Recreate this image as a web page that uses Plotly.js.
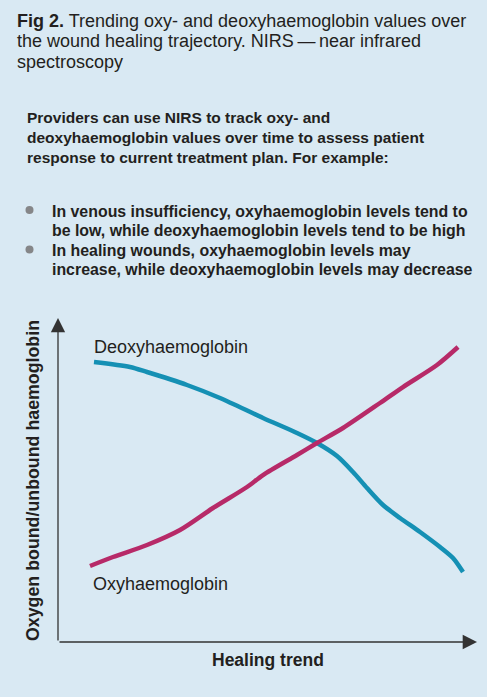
<!DOCTYPE html>
<html>
<head>
<meta charset="utf-8">
<script src="https://cdn.plot.ly/plotly-3.0.1.min.js"></script>
<style>
html,body{margin:0;padding:0;background:#d9e9f3;}
#chart{width:487px;height:697px;}
</style>
</head>
<body>
<div id="chart"></div>
<script>
// Data (arbitrary units, 0-100 on each axis)
const deoxyX = [8.59, 17.18, 21.24, 30.79, 38.66, 48.93, 57.04, 61.81, 66.59, 70.41, 73.75, 77.57, 81.62, 86.40, 91.17, 94.27, 96.66];
const deoxyY = [86.42, 84.88, 83.33, 79.32, 75.31, 69.14, 64.51, 61.42, 57.40, 52.47, 47.54, 42.28, 38.28, 33.95, 29.32, 25.93, 21.60];
const oxyX = [7.64, 13.13, 21.24, 29.12, 36.99, 45.11, 48.93, 57.04, 61.81, 68.02, 76.85, 82.34, 90.45, 95.47];
const oxyY = [23.46, 26.23, 29.94, 34.57, 41.36, 47.84, 51.54, 57.72, 61.42, 66.05, 73.77, 78.70, 85.49, 91.05];

const seriesNames = ["Deoxyhaemoglobin", "Oxyhaemoglobin"];
const xTitle = "Healing trend";
const yTitle = "Oxygen bound/unbound haemoglobin";
const titleLines = [
  "<b>Fig 2.</b> Trending oxy- and deoxyhaemoglobin values over",
  "the wound healing trajectory. NIRS\u2009\u2014\u2009near infrared",
  "spectroscopy"
];
const introLines = [
  "Providers can use NIRS to track oxy- and",
  "deoxyhaemoglobin values over time to assess patient",
  "response to current treatment plan. For example:"
];
const bulletLines = [
  ["In venous insufficiency, oxyhaemoglobin levels tend to", "be low, while deoxyhaemoglobin levels tend to be high"],
  ["In healing wounds, oxyhaemoglobin levels may", "increase, while deoxyhaemoglobin levels may decrease"]
];

// Layout geometry (pixels)
const W = 487, H = 697;
const L = 58, R = 477, T = 318, B = 642;
const px2x = p => (p - L) / (R - L);
const py2y = p => (B - p) / (B - T);
const FONT = "Liberation Sans, Arial, Helvetica, sans-serif";
const INK = "#231f20";

const annotations = [];
function addText(str, px, base, size, bold, anchor) {
  annotations.push({
    xref: "paper", yref: "paper",
    x: px2x(px), y: py2y(base - 0.35 * size),
    xanchor: anchor || "left", yanchor: "middle",
    text: bold ? "<b>" + str + "</b>" : str,
    showarrow: false,
    font: {family: FONT, size: size, color: INK},
    borderpad: 0
  });
}
titleLines.forEach((t, i) => addText(t, 16, 27 + i * 20.5, 18, false));
introLines.forEach((t, i) => addText(t, 26, 123 + i * 20, 15.5, true));
const bulletBase = [[217, 236.5], [256.5, 275.5]];
const shapes = [];
bulletLines.forEach((pair, i) => {
  pair.forEach((t, j) => addText(t, 51, bulletBase[i][j], 15.9, true));
  shapes.push({
    type: "circle", xref: "paper", yref: "paper",
    xsizemode: "pixel", ysizemode: "pixel",
    xanchor: px2x(29.5), yanchor: py2y(bulletBase[i][0] - 7),
    x0: -4, x1: 4, y0: -4, y1: 4,
    fillcolor: "#858688", line: {width: 0}
  });
});
// series labels
addText(seriesNames[0], 93, 353, 18, false);
addText(seriesNames[1], 92, 590, 18, false);
// axis titles
addText(xTitle, 268, 666, 17.5, true, "center");
annotations.push({
  xref: "paper", yref: "paper", x: px2x(33), y: py2y(481),
  xanchor: "center", yanchor: "middle", textangle: -90,
  text: "<b>" + yTitle + "</b>", showarrow: false,
  font: {family: FONT, size: 17.8, color: INK}
});
// axis arrows
annotations.push({
  xref: "x", yref: "y", x: 0, y: 100, ax: 0, ay: B - T, axref: "pixel", ayref: "pixel",
  text: "", showarrow: true, arrowhead: 2, arrowsize: 2.2, arrowwidth: 1.3, arrowcolor: "#333", standoff: 0
});
annotations.push({
  xref: "x", yref: "y", x: 100, y: 0, ax: -(R - L), ay: 0, axref: "pixel", ayref: "pixel",
  text: "", showarrow: true, arrowhead: 2, arrowsize: 2.2, arrowwidth: 1.3, arrowcolor: "#333", standoff: 0
});

const traces = [
  {x: deoxyX, y: deoxyY, name: seriesNames[0], mode: "lines",
   line: {color: "#1590b4", width: 4.5, shape: "spline", smoothing: 0.8}},
  {x: oxyX, y: oxyY, name: seriesNames[1], mode: "lines",
   line: {color: "#b72a68", width: 4.5, shape: "spline", smoothing: 0.8}}
];

const layout = {
  width: W, height: H,
  margin: {l: L, r: W - R, t: T, b: H - B, pad: 0},
  paper_bgcolor: "#d9e9f3", plot_bgcolor: "#d9e9f3",
  showlegend: false,
  xaxis: {range: [0, 100], visible: false, fixedrange: true},
  yaxis: {range: [0, 100], visible: false, fixedrange: true},
  annotations: annotations,
  shapes: shapes
};
Plotly.newPlot("chart", traces, layout, {displayModeBar: false, staticPlot: true});
</script>
</body>
</html>
